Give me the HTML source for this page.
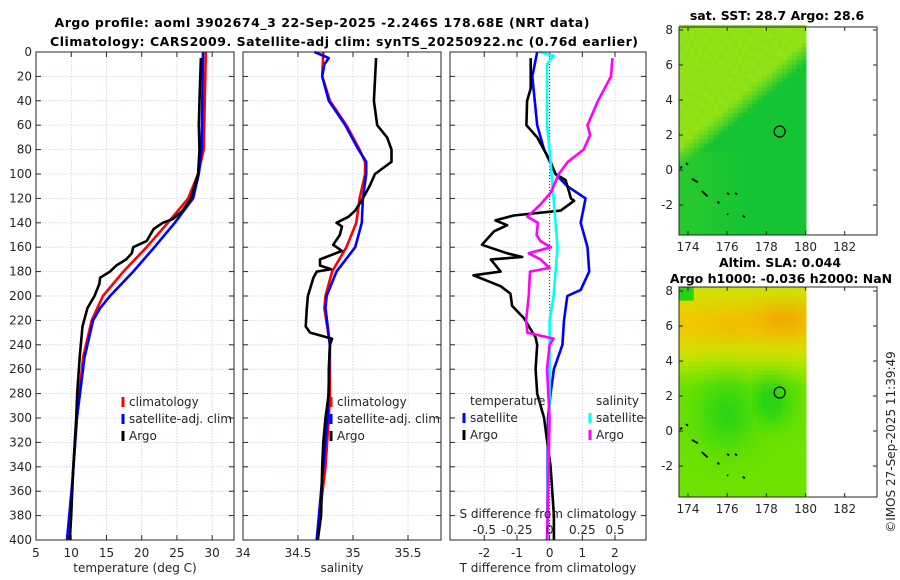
<!DOCTYPE html>
<html><head><meta charset="utf-8">
<style>
body{margin:0;background:#fff;}
svg{display:block;font-family:"DejaVu Sans","Liberation Sans",sans-serif;}
.t{font-size:12px;fill:#262626}
.b{font-weight:bold;font-size:12.5px;fill:#000}
</style></head><body>
<svg id="s" width="900" height="580" viewBox="0 0 900 580" xmlns="http://www.w3.org/2000/svg">
<text class="b" x="322" y="27" text-anchor="middle" textLength="535">Argo profile: aoml 3902674_3 22-Sep-2025 -2.246S 178.68E (NRT data)</text>
<text class="b" x="344" y="46" text-anchor="middle" textLength="588">Climatology: CARS2009. Satellite-adj clim: synTS_20250922.nc (0.76d earlier)</text>
<g id="g"></g>
</svg>
<script>
// ---------- data ----------
const depthTicks=[0,20,40,60,80,100,120,140,160,180,200,220,240,260,280,300,320,340,360,380,400];
const tempTicks=[5,10,15,20,25,30];
const salTicks=[34,34.5,35,35.5];
const tdiffTicks=[-2,-1,0,1,2];
const sdiffTicks=[-0.5,-0.25,0,0.25,0.5];
const sdiffLabels=["-0.5","-0.25","0","0.25","0.5"];
// temperature panel
const tArgoDepth=[5,40,60,80,100,110,120,130,137,140,145,155,160,165,170,175,180,185,190,200,210,225,250,280,300,340,380,400];
const tArgoVal=[28.4,28.2,28.1,28.2,28.0,27.5,27.0,25.8,24.4,23.0,21.7,20.7,18.8,18.6,17.8,16.4,15.5,14.1,14.0,13.3,12.3,11.6,11.2,10.85,10.7,10.3,10.0,9.8];
const tClimDepth=[0,80,100,120,140,160,180,200,220,250,300,350,400];
const tClimVal=[29.1,28.8,28.0,26.6,23.7,20.7,17.4,14.5,12.9,11.7,10.8,10.2,9.6];
const tSatDepth=[0,80,100,120,140,160,180,200,210,220,250,300,350,400];
const tSatVal=[28.7,28.5,28.1,27.3,24.7,21.8,18.8,15.5,14.1,13.1,11.9,10.8,10.2,9.4];
// salinity panel
const sArgoDepth=[5,40,60,70,80,90,100,110,120,130,135,140,143,150,158,163,170,175,178,180,185,200,210,225,230,235,240,260,280,300,320,340,380,400];
const sArgoVal=[35.21,35.19,35.22,35.31,35.35,35.35,35.2,35.15,35.09,35.02,34.96,34.85,34.9,34.88,34.82,34.9,34.70,34.70,34.8,34.67,34.64,34.59,34.58,34.57,34.61,34.81,34.79,34.78,34.78,34.75,34.73,34.72,34.71,34.68];
const sClimDepth=[0,20,40,60,80,90,100,120,140,160,180,200,210,240,280,300,340,400];
const sClimVal=[34.73,34.72,34.79,34.94,35.06,35.11,35.11,35.06,35.03,34.94,34.81,34.75,34.74,34.79,34.79,34.78,34.75,34.67];
const sSatDepth=[0,5,10,20,40,60,80,90,100,120,140,160,180,200,210,240,300,400];
const sSatVal=[34.65,34.78,34.74,34.72,34.78,34.93,35.05,35.12,35.12,35.09,35.08,35.02,34.85,34.76,34.75,34.79,34.77,34.67];
// difference panel
const dTSatDepth=[0,20,60,80,100,110,120,140,160,180,195,200,220,240,260,280,300,400];
const dTSatVal=[-0.38,-0.53,-0.38,-0.17,0.18,0.54,1.1,0.95,1.16,1.21,0.95,0.54,0.44,0.39,0.13,0.03,-0.05,-0.07];
const dTArgoDepth=[5,30,40,60,70,90,100,105,115,120,122,130,134,138,142,147,158,165,168,170,180,183,192,198,208,218,234,240,260,280,300,320,340,380,400];
const dTArgoVal=[-0.58,-0.58,-0.69,-0.71,-0.38,0.03,0.18,0.49,0.6,0.65,0.75,0.34,-1.1,-1.66,-1.3,-1.7,-2.07,-1.3,-0.84,-1.8,-1.5,-2.33,-1.5,-1.2,-1.15,-0.79,-0.43,-0.38,-0.43,-0.38,-0.17,-0.07,0.03,0.13,0.13];
const dSSatDepth=[0,3,10,40,60,80,120,160,200,220,240,280,400];
const dSSatVal=[-0.08,0.03,-0.02,-0.02,-0.02,0,0.03,0.06,0.03,0,0,0,-0.02];
const dSArgoDepth=[5,20,40,60,68,80,90,100,115,125,135,140,150,155,160,165,170,177,180,200,220,230,235,240,260,300,400];
const dSArgoVal=[0.48,0.47,0.37,0.29,0.31,0.26,0.14,0.07,0.01,-0.07,-0.17,-0.09,-0.1,-0.07,0.01,-0.16,-0.07,0,-0.15,-0.16,-0.18,-0.17,0.03,0,-0.02,0,-0.02];
// map info
const lonTicks=[174,176,178,180,182];
const latTicks=[-2,0,2,4,6,8];
const floatLon=178.68, floatLat=2.2;

// ---------- helpers ----------
const NS="http://www.w3.org/2000/svg";
const G=document.getElementById('g');
function mk(tag,attrs,parent){const e=document.createElementNS(NS,tag);for(const k in attrs)e.setAttribute(k,attrs[k]);(parent||G).appendChild(e);return e;}
function txt(x,y,s,anchor,cls,parent){const e=mk('text',{x:x,y:y,'text-anchor':anchor||'middle','class':cls||'t'},parent);e.textContent=s;return e;}
const Y0=52,Y1=540;
function yD(d){return Y0+(d/400)*(Y1-Y0);}
function scale(v0,v1,p0,p1){return v=>p0+(v-v0)/(v1-v0)*(p1-p0);}

function panel(name,x0,x1,xTicks,xs,labels,showDepthLabels,xlabel){
  const g=mk('g',{});
  
  
  depthTicks.forEach(d=>{const l=mk('line',{x1:x0,x2:x1,y1:yD(d),y2:yD(d),stroke:'#c8cde6','stroke-width':0.8,'stroke-dasharray':'1.5,1.5'},g);
    
    mk('line',{x1:x0,x2:x0+5,y1:yD(d),y2:yD(d),stroke:'#262626'},g);mk('line',{x1:x1-5,x2:x1,y1:yD(d),y2:yD(d),stroke:'#262626'},g);
    if(showDepthLabels){const t=txt(x0-4,yD(d)+4,String(d),'end','t',g);}
  });
  xTicks.forEach((v,i)=>{const x=xs(v);
    mk('line',{x1:x,x2:x,y1:Y0,y2:Y1,stroke:'#c8cde6','stroke-width':0.8,'stroke-dasharray':'1.5,1.5'},g);
    mk('line',{x1:x,x2:x,y1:Y1,y2:Y1-5,stroke:'#262626'},g);mk('line',{x1:x,x2:x,y1:Y0,y2:Y0+5,stroke:'#262626'},g);
    const t=txt(x,Y1+17,labels?labels[i]:String(v),'middle','t',g);
  });
  const xl=txt((x0+x1)/2,Y1+32,xlabel,'middle','t',g);
  
  return g;
}
function frame(g,x0,x1){const r=mk('rect',{x:x0,y:Y0,width:x1-x0,height:Y1-Y0,fill:'none',stroke:'#262626','stroke-width':1},g);}
function line(g,depths,vals,xs,color,name,w){
  const p=depths.map((d,i)=>(i?'L':'M')+xs(vals[i]).toFixed(1)+','+yD(d).toFixed(1)).join('');
  const e=mk('path',{d:p,fill:'none',stroke:color,'stroke-width':w||2.6,'stroke-linejoin':'round'},g);
  
  
}
function legItem(g,x,y,color,label,name){
  mk('line',{x1:x,x2:x,y1:y-9,y2:y+1,stroke:color,'stroke-width':3},g);
  const t=txt(x+6,y,label,'start','t',g);
  
  
}

// ---------- panel 1 ----------
const xT=scale(5,33.1,36,234);
const p1=panel('temperature-panel',36,234,tempTicks,xT,null,true,'temperature (deg C)');
line(p1,tClimDepth,tClimVal,xT,'#ff0000','climatology-temp-line');
line(p1,tSatDepth,tSatVal,xT,'#0000ff','satellite-temp-line');
line(p1,tArgoDepth,tArgoVal,xT,'#000000','argo-temp-line');
legItem(p1,123,406,'#ff0000','climatology','legend-climatology');
legItem(p1,123,423,'#0000ff','satellite-adj. clim','legend-satellite');
legItem(p1,123,440,'#000000','Argo','legend-argo');
frame(p1,36,234);

// ---------- panel 2 ----------
const xS=scale(34,35.8,243,441);
const p2=panel('salinity-panel',243,441,salTicks,xS,null,false,'salinity');
line(p2,sClimDepth,sClimVal,xS,'#ff0000','climatology-sal-line');
line(p2,sSatDepth,sSatVal,xS,'#0000ff','satellite-sal-line');
line(p2,sArgoDepth,sArgoVal,xS,'#000000','argo-sal-line');
legItem(p2,331,406,'#ff0000','climatology','legend-climatology-sal');
legItem(p2,331,423,'#0000ff','satellite-adj. clim','legend-satellite-sal');
legItem(p2,331,440,'#000000','Argo','legend-argo-sal');
frame(p2,243,441);

// ---------- panel 3 ----------
const xD=scale(-3.05,2.95,450,646);
const xSD=v=>xD(v*4);
const p3=panel('difference-panel',450,646,tdiffTicks,xD,null,false,'T difference from climatology');
mk('line',{x1:xD(0),x2:xD(0),y1:Y0,y2:Y1,stroke:'#333','stroke-width':1,'stroke-dasharray':'1,2'},p3);
line(p3,dTSatDepth,dTSatVal,xD,'#0000ff','satellite-tdiff-line');
line(p3,dTArgoDepth,dTArgoVal,xD,'#000000','argo-tdiff-line');
line(p3,dSSatDepth,dSSatVal,xSD,'#00ffff','satellite-sdiff-line');
line(p3,dSArgoDepth,dSArgoVal,xSD,'#ff00ff','argo-sdiff-line');
let lt=txt(470,405,'temperature','start','t',p3);
let ls=txt(596,405,'salinity','start','t',p3);
legItem(p3,464,422,'#0000ff','satellite','legend-t-satellite');
legItem(p3,464,439,'#000000','Argo','legend-t-argo');
legItem(p3,590,422,'#00ffff','satellite','legend-s-satellite');
legItem(p3,590,439,'#ff00ff','Argo','legend-s-argo');
let sdt=txt(548,518,'S difference from climatology','middle','t',p3);
sdiffTicks.forEach((v,i)=>{const t=txt(xSD(v),534,sdiffLabels[i],'middle','t',p3);});
frame(p3,450,646);

// ---------- maps ----------
function lerp(a,b,t){return a.map((v,i)=>Math.round(v+(b[i]-v)*t));}
function clamp(t){return Math.max(0,Math.min(1,t));}
function noise(lon,lat){return (Math.sin(lon*17.3+lat*5.1)*Math.cos(lat*13.7-lon*3.2))*0.5+0.5;}
function sstColor(lon,lat){
  const b=0.6+(lon-173.5)*0.95; // boundary latitude
  let t=clamp((lat-b)/1.4+0.5);
  let c=lerp([20,196,50],[150,228,20],t);
  if(lat<1.0&&lon<177) c=lerp(c,[50,205,45],clamp((177-lon)/3)*0.6*(1-t));
  return lerp(c,[110,218,30],noise(lon,lat)*0.35*t);
}
function slaColor(lon,lat){
  let c=lerp([110,226,0],[200,232,0],clamp((lat-2.5)/2));
  let band=Math.exp(-Math.pow((lat-6.2)/1.5,2));
  c=lerp(c,[240,200,0],band);
  const hot=Math.exp(-(Math.pow((lon-178.8)/1.5,2)+Math.pow((lat-6.4)/1.0,2)));
  c=lerp(c,[240,150,0],hot*0.55);
  const hot2=Math.exp(-(Math.pow((lon-176)/1.0,2)+Math.pow((lat-6)/0.8,2)));
  c=lerp(c,[240,170,0],hot2*0.3);
  const g1=Math.exp(-(Math.pow((lon-178.2)/1.1,2)+Math.pow((lat-1.7)/1.4,2)));
  const g2=Math.exp(-(Math.pow((lon-176.0)/1.5,2)+Math.pow((lat-1.0)/2.0,2)));
  c=lerp(c,[40,212,20],clamp(Math.max(g1,g2*0.85)*1.1));
  if(lat>7.6&&lon<174.3) c=[40,210,20];
  return c;
}
function mapPanel(name,top,bot,latTop,latBot,colorFn,titles){
  const g=mk('g',{});
  
  
  const X0=679,X1=877;
  const xl=scale(173.54,183.65,X0,X1), yl=scale(latTop,latBot,top,bot);
  const step=0.25;
  for(let lon=173.54;lon<180.05;lon+=step){
    for(let lat=latBot;lat<latTop;lat+=step){
      const c=colorFn(lon+step/2,lat+step/2);
      const x=xl(lon),y=yl(lat+step);
      mk('rect',{x:x.toFixed(1),y:y.toFixed(1),width:(xl(Math.min(lon+step,180.03))-x+0.4).toFixed(1),height:(yl(lat)-y+0.4).toFixed(1),fill:'rgb('+c.join(',')+')'},g);
    }
  }
  const coast=[[173.6,0.1,173.7,0.2],[173.9,0.4,174.0,0.3],[174.2,-0.5,174.5,-0.7],[174.7,-1.2,175.0,-1.5],[175.5,-1.8,175.6,-1.9],[176.0,-1.3,176.1,-1.4],[176.4,-1.3,176.5,-1.4],[176.0,-2.5,176.05,-2.55],[176.8,-2.6,176.9,-2.7]];
  coast.forEach(c=>{const e=mk('line',{x1:xl(c[0]),y1:yl(c[1]),x2:xl(c[2]),y2:yl(c[3]),stroke:'#000','stroke-width':1.8},g);});
  const circ=mk('circle',{cx:xl(floatLon),cy:yl(floatLat),r:5.5,fill:'none',stroke:'#000','stroke-width':1.2},g);
  
  mk('rect',{x:X0,y:top,width:X1-X0,height:bot-top,fill:'none',stroke:'#262626'},g);
  lonTicks.forEach(v=>{const x=xl(v);mk('line',{x1:x,x2:x,y1:bot,y2:bot-4,stroke:'#262626'},g);mk('line',{x1:x,x2:x,y1:top,y2:top+4,stroke:'#262626'},g);
    const t=txt(x,bot+16,String(v),'middle','t',g);});
  latTicks.forEach(v=>{const y=yl(v);mk('line',{x1:X0,x2:X0+4,y1:y,y2:y,stroke:'#262626'},g);mk('line',{x1:X1-4,x2:X1,y1:y,y2:y,stroke:'#262626'},g);
    const t=txt(X0-6,y+4,String(v),'end','t',g);});
  titles.forEach((s,i)=>{const t=txt(s[1],s[2],s[0],'middle','b',g);});
}
mapPanel('sst-map',27,235,8.17,-3.71,sstColor,[['sat. SST: 28.7 Argo: 28.6',777,20]]);
mapPanel('sla-map',287,497,8.23,-3.77,slaColor,[['Altim. SLA: 0.044',780,267],['Argo h1000: -0.036 h2000: NaN',781,283]]);
const cp=txt(0,0,'©IMOS 27-Sep-2025 11:39:49','middle','t');
cp.setAttribute('transform','translate(895,442) rotate(-90)');


</script>
</body></html>
